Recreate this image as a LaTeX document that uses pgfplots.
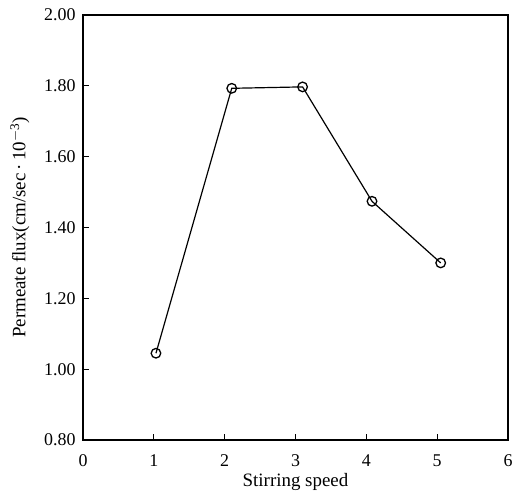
\documentclass[border=0pt]{standalone}
\usepackage{fontspec}
\setmainfont{Liberation Serif}
\usepackage{pgfplots}
\pgfplotsset{compat=1.18}
\begin{document}
\begin{tikzpicture}
\begin{axis}[
  scale only axis,
  width=425bp, height=425bp,
  xmin=0, xmax=6, ymin=0.8, ymax=2.0,
  xtick={0,1,2,3,4,5,6},
  ytick={0.8,1.0,1.2,1.4,1.6,1.8,2.0},
  /pgf/number format/assume math mode=true,
  tick align=inside,
  xtick pos=bottom, ytick pos=left,
  major tick length=6bp,
  tick style={black, line width=1pt},
  axis line style={black, line width=1.3pt},
  ticklabel style={font=\fontsize{18}{20}\selectfont},
  xticklabel style={anchor=center, yshift=-21bp},
  yticklabel style={anchor=east, xshift=-4bp, /pgf/number format/.cd, fixed, fixed zerofill, precision=2},
  label style={font=\fontsize{19}{21}\selectfont},
  xlabel={Stirring speed},
  ylabel={Permeate flux(cm/sec\,·\,10\textsuperscript{$-$3})},
  xlabel style={at={(rel axis cs:0.5,0)}, anchor=center, yshift=-42bp},
  ylabel style={at={(rel axis cs:0,0.5)}, anchor=center, yshift=63bp},
]
\addplot[black, line width=1.2pt, mark=o, mark size=4.8bp, mark options={line width=1.3pt}]
  coordinates {(1.03,1.045) (2.1,1.793) (3.1,1.797) (4.08,1.474) (5.05,1.30)};
\end{axis}
\path ([xshift=-83bp,yshift=15bp]current axis.north west) rectangle ([xshift=8bp,yshift=-53bp]current axis.south east);
\end{tikzpicture}
\end{document}
